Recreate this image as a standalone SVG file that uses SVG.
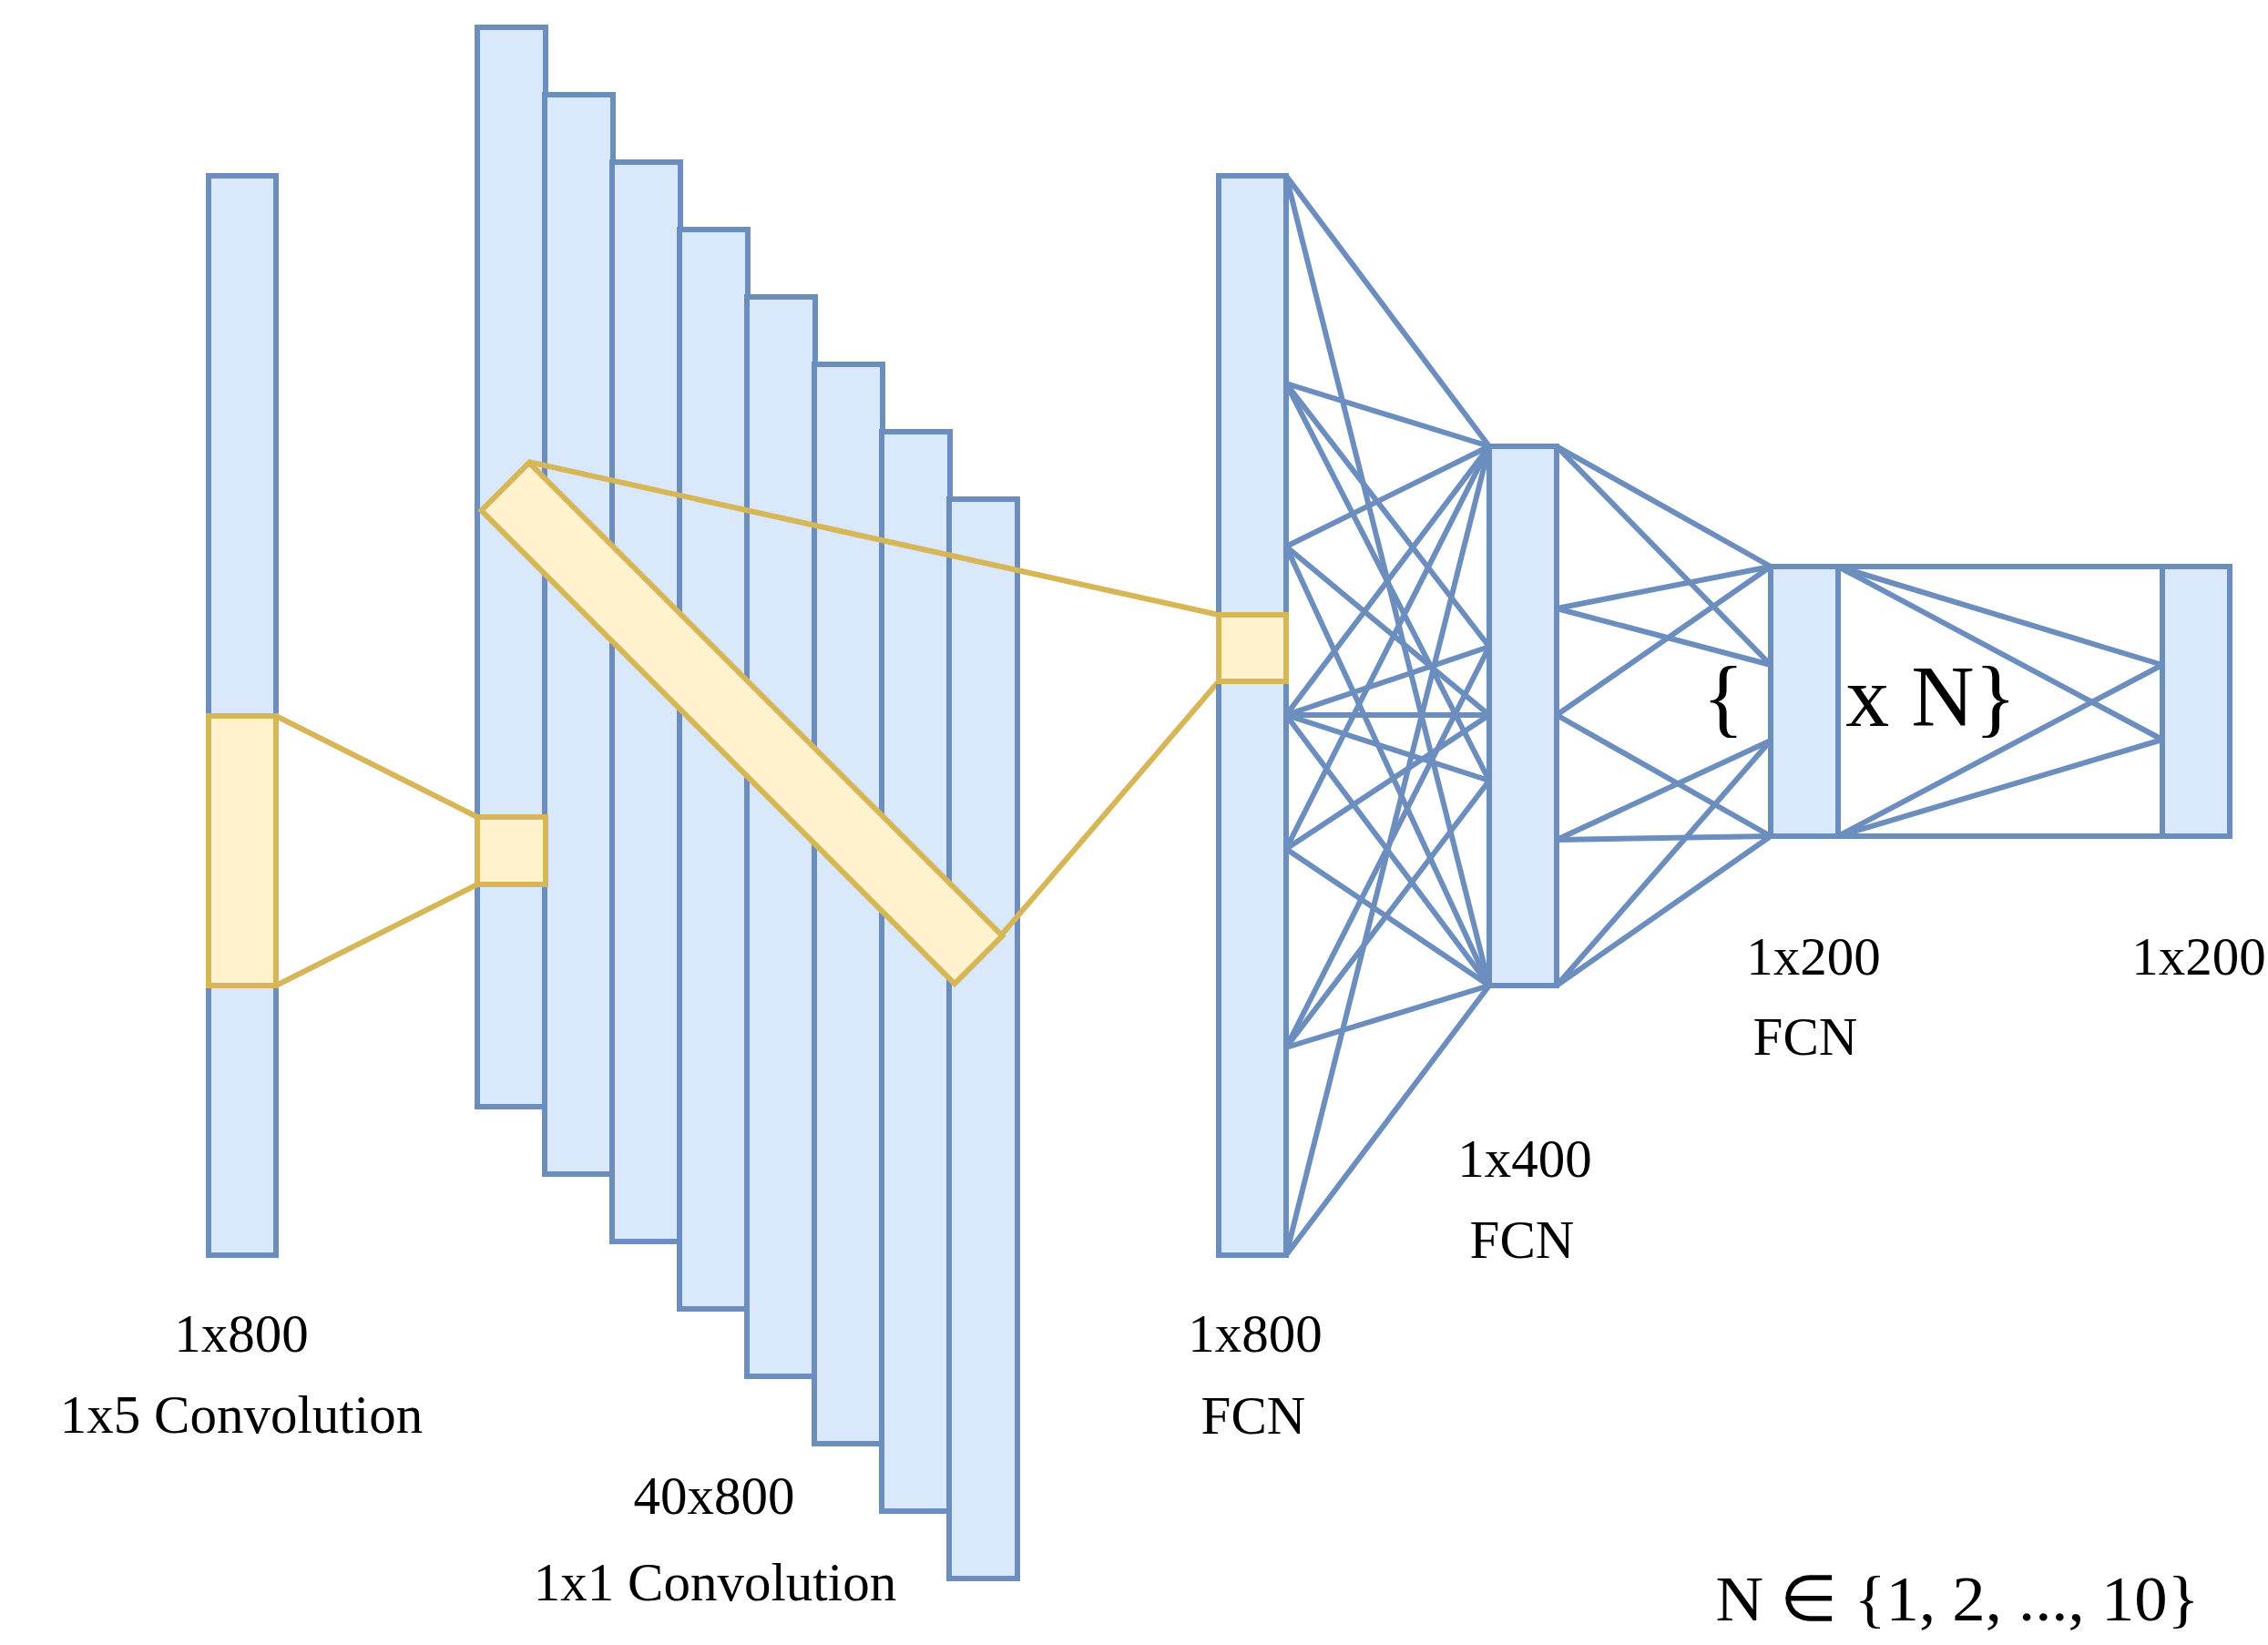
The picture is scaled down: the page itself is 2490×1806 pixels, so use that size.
<svg xmlns="http://www.w3.org/2000/svg" width="2490" height="1806" viewBox="0 0 2490 1806">
<style>
.b{fill:#dae8fc;stroke:#6c8ebf;stroke-width:6}
.y{fill:#fff2cc;stroke:#d6b656;stroke-width:6}
.yl{fill:none;stroke:#d6b656;stroke-width:6}
.c line{stroke:#6c8ebf;stroke-width:6}
text{font-family:"Liberation Serif","Times New Roman",serif;fill:#000;text-anchor:middle}
.l{font-size:59px}
</style>
<rect width="2490" height="1806" fill="#fff"/>
<g id="input">
<rect class="b" x="229" y="193" width="74" height="1185"/>
<rect class="y" x="229" y="786" width="74" height="296"/>
</g>
<g id="conv-stack">
<rect class="b" x="524" y="30" width="75" height="1185"/>
<rect class="b" x="598" y="104" width="75" height="1185"/>
<rect class="b" x="672" y="178" width="75" height="1185"/>
<rect class="b" x="746" y="252" width="75" height="1185"/>
<rect class="b" x="820" y="326" width="75" height="1185"/>
<rect class="b" x="894" y="400" width="75" height="1185"/>
<rect class="b" x="968" y="474" width="75" height="1185"/>
<rect class="b" x="1042" y="548" width="75" height="1185"/>
</g>
<g id="conv-kernel">
<rect class="y" x="524" y="897" width="75" height="74"/>
<polyline class="yl" points="303,786 524,897"/>
<polyline class="yl" points="303,1082 524,971"/>
<rect class="y" x="447.1" y="756.9" width="734.7" height="74.2" transform="rotate(45 814.5 794)"/>
<polyline class="yl" points="580,507 1338,675"/>
<polyline class="yl" points="1099,1027 1338,748"/>
</g>
<g id="fcn800">
<rect class="b" x="1338" y="193" width="74" height="1185"/>
<rect class="y" x="1338" y="675" width="74" height="73"/>
</g>
<g id="fcn400"><rect class="b" x="1635" y="490" width="74" height="592"/></g>
<g id="fcn200"><rect class="b" x="1944" y="622" width="74" height="296"/></g>
<g id="out200"><rect class="b" x="2374" y="622" width="74" height="296"/></g>
<g id="connectors" class="c">
<line x1="1412" y1="193" x2="1635" y2="490"/>
<line x1="1412" y1="193" x2="1635" y2="1082"/>
<line x1="1412" y1="421" x2="1635" y2="490"/>
<line x1="1412" y1="421" x2="1635" y2="710"/>
<line x1="1412" y1="421" x2="1635" y2="857"/>
<line x1="1412" y1="600" x2="1635" y2="490"/>
<line x1="1412" y1="600" x2="1635" y2="785"/>
<line x1="1412" y1="600" x2="1635" y2="1082"/>
<line x1="1412" y1="785" x2="1635" y2="490"/>
<line x1="1412" y1="785" x2="1635" y2="710"/>
<line x1="1412" y1="785" x2="1635" y2="785"/>
<line x1="1412" y1="785" x2="1635" y2="857"/>
<line x1="1412" y1="785" x2="1635" y2="1082"/>
<line x1="1412" y1="932" x2="1635" y2="490"/>
<line x1="1412" y1="932" x2="1635" y2="785"/>
<line x1="1412" y1="932" x2="1635" y2="1082"/>
<line x1="1412" y1="1150" x2="1635" y2="710"/>
<line x1="1412" y1="1150" x2="1635" y2="857"/>
<line x1="1412" y1="1150" x2="1635" y2="1082"/>
<line x1="1412" y1="1378" x2="1635" y2="490"/>
<line x1="1412" y1="1378" x2="1635" y2="1082"/>
<line x1="1709" y1="490" x2="1944" y2="622"/>
<line x1="1709" y1="490" x2="1944" y2="730"/>
<line x1="1709" y1="668" x2="1944" y2="622"/>
<line x1="1709" y1="668" x2="1944" y2="730"/>
<line x1="1709" y1="785" x2="1944" y2="622"/>
<line x1="1709" y1="785" x2="1944" y2="918"/>
<line x1="1709" y1="922" x2="1944" y2="813"/>
<line x1="1709" y1="922" x2="1944" y2="918"/>
<line x1="1709" y1="1082" x2="1944" y2="813"/>
<line x1="1709" y1="1082" x2="1944" y2="918"/>
<line x1="2018" y1="622" x2="2374" y2="622"/>
<line x1="2018" y1="622" x2="2374" y2="730"/>
<line x1="2018" y1="622" x2="2374" y2="812"/>
<line x1="2018" y1="918" x2="2374" y2="730"/>
<line x1="2018" y1="918" x2="2374" y2="812"/>
<line x1="2018" y1="918" x2="2374" y2="918"/>
</g>
<g id="labels">
<text class="l" x="265" y="1484">1x800</text>
<text class="l" x="265" y="1573">1x5 Convolution</text>
<text class="l" x="784" y="1662">40x800</text>
<text class="l" x="785" y="1757">1x1 Convolution</text>
<text class="l" x="1378" y="1484">1x800</text>
<text class="l" x="1376" y="1574">FCN</text>
<text class="l" x="1674" y="1292">1x400</text>
<text class="l" x="1671" y="1381">FCN</text>
<text class="l" x="1991" y="1070">1x200</text>
<text class="l" x="1982" y="1158">FCN</text>
<text class="l" x="2414" y="1070">1x200</text>
<text x="1892" y="797" style="font-size:96px">{</text>
<text x="2120" y="797" style="font-size:96px">x N}</text>
<text x="2149" y="1779" style="font-size:70px" textLength="531" lengthAdjust="spacingAndGlyphs">N ∈ {1, 2, ..., 10}</text>
</g>
</svg>
